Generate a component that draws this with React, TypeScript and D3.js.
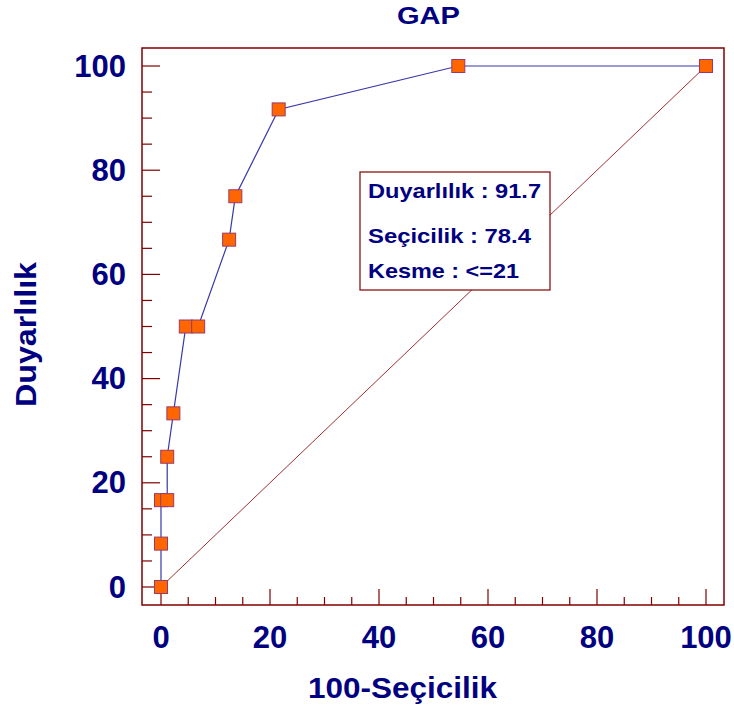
import React from "react";
import * as d3 from "d3";

const fpr = [0, 0, 0, 1.14, 1.14, 2.27, 4.55, 6.82, 12.5, 13.64, 21.59, 54.55, 100];
const tpr = [0, 8.33, 16.67, 16.67, 25, 33.33, 50, 50, 66.67, 75, 91.67, 100, 100];
const diagonal = [0, 100];
const majorTicks = [0, 20, 40, 60, 80, 100];
const minorTicks = d3.range(0, 101, 5).filter((v) => v % 20 !== 0);
const title = "GAP";
const xTitle = "100-Seçicilik";
const yTitle = "Duyarlılık";
const legendLines = ["Duyarlılık : 91.7", "Seçicilik : 78.4", "Kesme : <=21"];

export default function App() {
  const W = 734, H = 713;
  const frame = { left: 142, top: 48, right: 724, bottom: 605 };
  const x = d3.scaleLinear().domain([0, 100]).range([161, 706]);
  const y = d3.scaleLinear().domain([0, 100]).range([587, 66]);
  const navy = "#000080";
  const axisCol = "#800000";
  const font = "Arial, 'Liberation Sans', sans-serif";
  const pts = fpr.map((f, i) => [f, tpr[i]] as [number, number]);
  const line = d3.line<[number, number]>().x((d) => x(d[0])).y((d) => y(d[1]));
  const ms = 13;
  const legendY = [198, 243, 278];
  const legendLen = [173, 163, 151];
  return (
    <svg width={W} height={H} style={{ position: "absolute", left: 0, top: 0 }}>
      <rect x={0} y={0} width={W} height={H} fill="#fff" />
      <text x={397} y={23.5} textLength={63} lengthAdjust="spacingAndGlyphs" fontFamily={font} fontWeight="bold" fontSize={23} fill={navy}>{title}</text>
      {/* frame */}
      <rect x={frame.left} y={frame.top} width={frame.right - frame.left} height={frame.bottom - frame.top} fill="none" stroke={axisCol} strokeWidth={1.5} />
      {/* ticks */}
      {majorTicks.map((t) => (
        <line key={"xm" + t} x1={x(t)} x2={x(t)} y1={frame.bottom} y2={frame.bottom - 16} stroke={axisCol} strokeWidth={1.2} />
      ))}
      {minorTicks.map((t) => (
        <line key={"xn" + t} x1={x(t)} x2={x(t)} y1={frame.bottom} y2={frame.bottom - 8} stroke={axisCol} strokeWidth={1.2} />
      ))}
      {majorTicks.map((t) => (
        <line key={"ym" + t} x1={frame.left} x2={frame.left + 18} y1={y(t)} y2={y(t)} stroke={axisCol} strokeWidth={1.2} />
      ))}
      {minorTicks.map((t) => (
        <line key={"yn" + t} x1={frame.left} x2={frame.left + 10} y1={y(t)} y2={y(t)} stroke={axisCol} strokeWidth={1.2} />
      ))}
      {majorTicks.map((t) => (
        <text key={"xl" + t} x={x(t)} y={637} textAnchor="middle" dominantBaseline="central" fontFamily={font} fontWeight="bold" fontSize={31} fill={navy}>{t}</text>
      ))}
      {majorTicks.map((t) => (
        <text key={"yl" + t} x={126} y={y(t)} textAnchor="end" dominantBaseline="central" fontFamily={font} fontWeight="bold" fontSize={31} fill={navy}>{t}</text>
      ))}
      <text x={308} y={698} textLength={189} lengthAdjust="spacingAndGlyphs" fontFamily={font} fontWeight="bold" fontSize={30} fill={navy}>{xTitle}</text>
      <text transform={`translate(36,407) rotate(-90)`} textLength={145} lengthAdjust="spacingAndGlyphs" fontFamily={font} fontWeight="bold" fontSize={30} fill={navy}>{yTitle}</text>
      {/* diagonal */}
      <line x1={x(diagonal[0])} y1={y(diagonal[0])} x2={x(diagonal[1])} y2={y(diagonal[1])} stroke="#a03030" strokeWidth={1} />
      {/* legend box */}
      <rect x={360} y={172} width={190} height={118} fill="#fff" stroke={axisCol} strokeWidth={1.2} />
      {legendLines.map((s, i) => (
        <text key={s} x={368} y={legendY[i]} textLength={legendLen[i]} lengthAdjust="spacingAndGlyphs" fontFamily={font} fontWeight="bold" fontSize={21} fill={navy}>{s}</text>
      ))}
      {/* ROC line */}
      <path d={line(pts) || ""} fill="none" stroke="#3838a8" strokeWidth={1.2} />
      {pts.map((p, i) => (
        <rect key={i} x={x(p[0]) - ms / 2} y={y(p[1]) - ms / 2} width={ms} height={ms} fill="#ff6600" stroke="#9a3a6a" strokeWidth={1} />
      ))}
    </svg>
  );
}
